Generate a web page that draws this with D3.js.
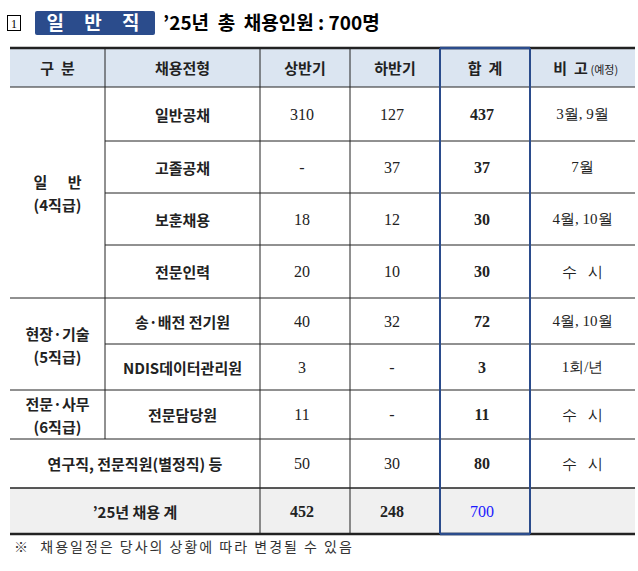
<!DOCTYPE html><html><head><meta charset="utf-8">
<script src="https://d3js.org/d3.v7.min.js"></script>
<style>body{margin:0;background:#fff} text{white-space:pre}</style></head><body>
<svg id="c" width="638" height="571"></svg>
<script>
const headers=["구  분","채용전형","상반기","하반기","합  계","비  고"];
const groups=[{name:["일      반","(4직급)"],rows:4},{name:["현장·기술","(5직급)"],rows:2},{name:["전문·사무","(6직급)"],rows:1}];
const types=["일반공채","고졸공채","보훈채용","전문인력","송·배전 전기원","NDIS데이터관리원","전문담당원","연구직, 전문직원(별정직) 등"];
const firstHalf=["310","-","18","20","40","3","11","50"];
const secondHalf=["127","37","12","10","32","-","-","30"];
const totals=["437","37","30","30","72","3","11","80"];
const notes=["3월, 9월","7월","4월, 10월","수   시","4월, 10월","1회/년","수   시","수   시"];
const sumRow=["’25년 채용 계","452","248","700"];

const svg=d3.select("#c");
const cols=[10,105,260,350,440,530,635];
const rowEdges=[48,87,141,193,245,298,344,390,439,488,534];
const y=i=>rowEdges[i];
const kr="'Noto Sans CJK KR'", serif="'Liberation Serif','DejaVu Serif'";
svg.append("rect").attr("x",7.5).attr("y",15.5).attr("width",13).attr("height",15).attr("fill","none").attr("stroke","#000");
svg.append("text").attr("x",14).attr("y",28).attr("text-anchor","middle").attr("font-size",12).attr("font-family",serif).text("1");
svg.append("rect").attr("x",35).attr("y",11).attr("width",120).attr("height",24).attr("rx",2).attr("fill","#2b4c8c");
svg.append("text").attr("x",97).attr("y",30).attr("text-anchor","middle").attr("fill","#fff").attr("font-size",19).attr("font-weight","bold").attr("font-family",kr).attr("letter-spacing",8).text("일 반 직");
svg.append("text").attr("x",163).attr("y",30).attr("font-size",19).attr("font-weight","bold").attr("font-family",kr).text("’25년  총  채용인원 : 700명");
svg.append("rect").attr("x",cols[0]).attr("y",y(0)).attr("width",cols[6]-cols[0]).attr("height",y(1)-y(0)).attr("fill","#dbe5f1");
svg.append("rect").attr("x",cols[0]).attr("y",y(9)).attr("width",cols[6]-cols[0]).attr("height",y(10)-y(9)).attr("fill","#f0f0f0");
const line=(x1,y1,x2,y2,w=1,c="#222")=>svg.append("line").attr("x1",x1).attr("y1",y1).attr("x2",x2).attr("y2",y2).attr("stroke",c).attr("stroke-width",w);
const T=(x,yy,t,o={})=>svg.append("text").attr("x",x).attr("y",yy).attr("text-anchor","middle").attr("dominant-baseline","central")
  .attr("font-size",o.s||15).attr("font-weight",o.b?"bold":"normal").attr("font-family",o.f||kr).attr("fill",o.c||"#222").text(t);
line(cols[0],y(0),cols[6],y(0),2.5);
line(cols[0],y(1),cols[6],y(1),1);
[2,3,4,6].forEach(i=>line(cols[1],y(i),cols[6],y(i),1));
[5,7,8,9].forEach(i=>line(cols[0],y(i),cols[6],y(i),i==9?1.5:1));
line(cols[0],y(10),cols[6],y(10),2.5);
line(cols[1],y(0),cols[1],y(8));
[2,3].forEach(c=>line(cols[c],y(0),cols[c],y(10)));
line(cols[4],y(0),cols[4],y(10),2,"#2b4c8c");
line(cols[5],y(0),cols[5],y(10),2,"#2b4c8c");
line(cols[4],y(0),cols[5],y(0),2.5,"#2b4c8c");
line(cols[4],y(10),cols[5],y(10),2.5,"#2b4c8c");
const mid=c=>(cols[c]+cols[c+1])/2;
headers.forEach((h,i)=>{T(i==5?mid(i)-12:mid(i),(y(0)+y(1))/2,h,{b:true,s:15});});
svg.append("text").attr("x",mid(5)+8).attr("y",(y(0)+y(1))/2+1).attr("dominant-baseline","central").attr("font-size",11).attr("font-family",kr).attr("fill","#222").text("(예정)");
let r=0;
groups.forEach(g=>{const cy=(y(1+r)+y(1+r+g.rows))/2;
 T(mid(0),cy-11,g.name[0],{b:true,s:15});T(mid(0),cy+12,g.name[1],{b:true,s:15});r+=g.rows;});
types.forEach((t,i)=>{const cy=(y(1+i)+y(2+i))/2;
 if(i==7) T((cols[0]+cols[2])/2,cy,t,{b:true,s:15}); else T(mid(1),cy,t,{b:true,s:15});
 T(mid(2)-3,cy,firstHalf[i],{f:serif,s:16});
 T(mid(3)-3,cy,secondHalf[i],{f:serif,s:16});
 T(mid(4)-3,cy,totals[i],{f:serif,s:16,b:true});
 T(mid(5),cy,notes[i],{f:serif,s:15});
});
const sy=(y(9)+y(10))/2;
T((cols[0]+cols[2])/2,sy,sumRow[0],{b:true,s:15});
T(mid(2)-3,sy,sumRow[1],{f:serif,s:16,b:true});
T(mid(3)-3,sy,sumRow[2],{f:serif,s:16,b:true});
T(mid(4)-3,sy,sumRow[3],{f:serif,s:16,c:"#1a1aff"});
svg.append("text").attr("x",14).attr("y",552).attr("font-size",14).attr("font-family",kr).attr("fill","#333").attr("letter-spacing",2).text("※  채용일정은 당사의 상황에 따라 변경될 수 있음");
</script></body></html>
